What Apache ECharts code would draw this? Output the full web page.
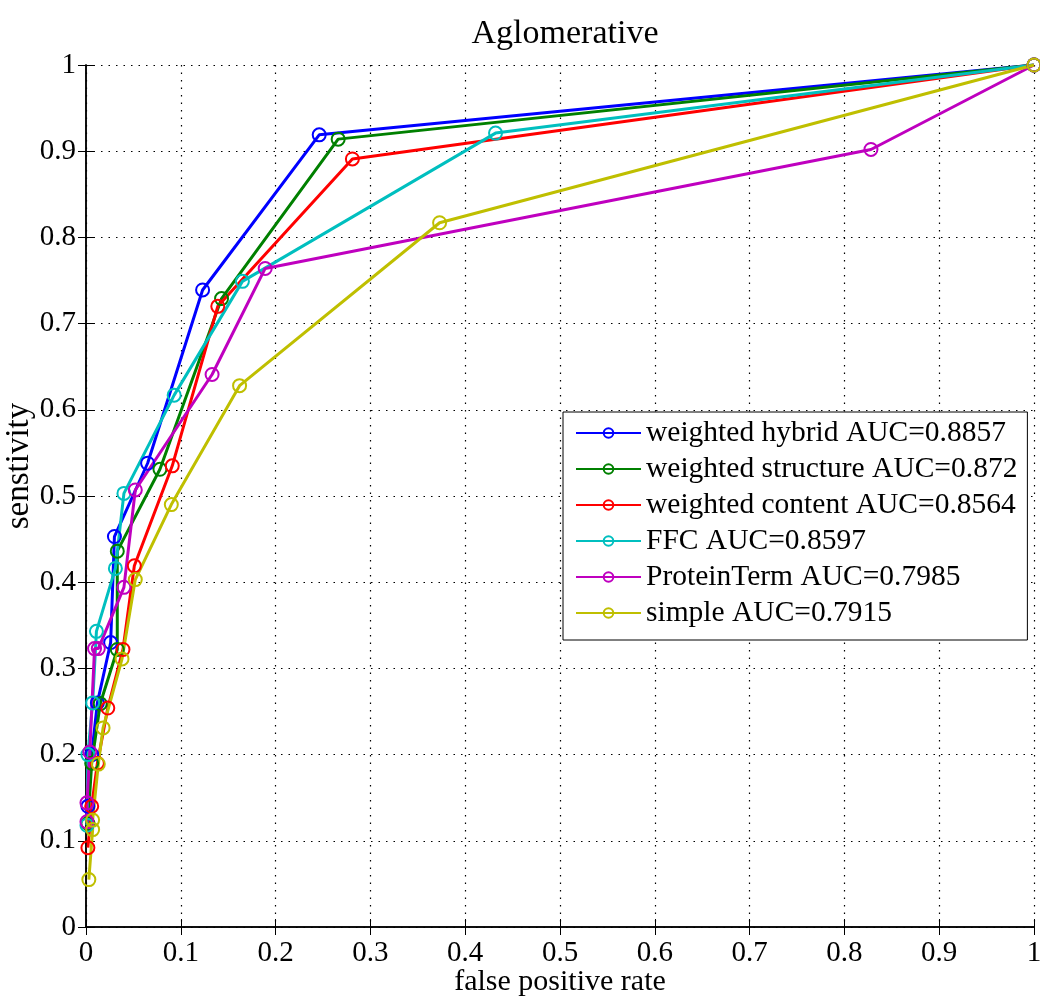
<!DOCTYPE html>
<html>
<head>
<meta charset="utf-8">
<script src="https://cdn.jsdelivr.net/npm/echarts@6/dist/echarts.min.js"></script>
<style>
  html, body { margin: 0; padding: 0; background: #fff; }
  #chart { width: 1040px; height: 996px; }
</style>
</head>
<body>
<div id="chart"></div>
<script>
// ROC points [false positive rate, sensitivity]
const hybrid = [[0.002, 0.14], [0.006, 0.2], [0.012, 0.26], [0.026, 0.33], [0.030, 0.453], [0.065, 0.538], [0.123, 0.739], [0.246, 0.919], [1, 1]];
const structure = [[0.002, 0.12], [0.006, 0.19], [0.015, 0.259], [0.033, 0.322], [0.033, 0.436], [0.078, 0.531], [0.143, 0.729], [0.266, 0.914], [1, 1]];
const content = [[0.002, 0.092], [0.006, 0.14], [0.012, 0.19], [0.023, 0.254], [0.039, 0.322], [0.051, 0.419], [0.091, 0.535], [0.139, 0.72], [0.281, 0.891], [1, 1]];
const ffc = [[0.001, 0.118], [0.002, 0.2], [0.007, 0.26], [0.011, 0.343], [0.031, 0.416], [0.040, 0.503], [0.093, 0.617], [0.165, 0.749], [0.432, 0.921], [1, 1]];
const proteinTerm = [[0.001, 0.122], [0.001, 0.144], [0.004, 0.203], [0.009, 0.323], [0.013, 0.323], [0.040, 0.394], [0.052, 0.507], [0.133, 0.641], [0.189, 0.764], [0.828, 0.902], [1, 1]];
const simple = [[0.003, 0.055], [0.007, 0.113], [0.007, 0.124], [0.013, 0.189], [0.018, 0.231], [0.038, 0.311], [0.052, 0.403], [0.090, 0.490], [0.162, 0.628], [0.373, 0.817], [1, 1]];

const names = ['weighted hybrid AUC=0.8857', 'weighted structure AUC=0.872', 'weighted content AUC=0.8564', 'FFC AUC=0.8597', 'ProteinTerm AUC=0.7985', 'simple AUC=0.7915'];
const colors = ['#0000ff', '#008000', '#ff0000', '#00bfbf', '#bf00bf', '#bfbf00'];
const allData = [hybrid, structure, content, ffc, proteinTerm, simple];

const font = 'Liberation Serif';
const chart = echarts.init(document.getElementById('chart'));

const seriesList = allData.map(function (d, i) {
    return {
        name: names[i],
        type: 'line',
        data: d,
        xAxisIndex: 0,
        yAxisIndex: 0,
        symbol: 'circle',
        symbolSize: 13,
        color: colors[i],
        lineStyle: { width: 3, color: colors[i] },
        itemStyle: { borderWidth: 2, color: 'transparent', borderColor: colors[i] }
    };
});

const boxAxis = {
    min: 0, max: 1, interval: 0.1,
    axisLine: { show: true, lineStyle: { color: '#000', width: 1.5 } },
    axisTick: { show: true, inside: true, length: 8, lineStyle: { color: '#000' } },
    axisLabel: { show: false },
    splitLine: { show: false }
};

chart.setOption({
    animation: false,
    backgroundColor: '#fff',
    title: {
        text: 'Aglomerative',
        left: 560,
        textAlign: 'center',
        top: 12,
        textStyle: { fontFamily: font, fontSize: 34, fontWeight: 'normal', color: '#000' }
    },
    legend: {
        orient: 'vertical',
        left: 563,
        top: 412,
        padding: [6, 10, 12, 12],
        itemGap: 6,
        itemWidth: 65,
        itemHeight: 12,
        backgroundColor: '#fff',
        borderColor: '#000',
        borderWidth: 1,
        textStyle: { fontFamily: font, fontSize: 29.5, color: '#000', lineHeight: 30 },
        data: names
    },
    grid: { left: 86, right: 6, top: 65, bottom: 69, containLabel: false, outerBoundsMode: 'none' },
    xAxis: [{
        type: 'value',
        min: 0, max: 1, interval: 0.1,
        name: 'false positive rate',
        nameLocation: 'middle',
        nameMoveOverlap: false,
        nameGap: 40,
        nameTextStyle: { fontFamily: font, fontSize: 30, color: '#000' },
        axisLine: { show: true, lineStyle: { color: '#000', width: 1.5 } },
        axisTick: { show: true, inside: true, length: 8, lineStyle: { color: '#000' } },
        axisLabel: { fontFamily: font, fontSize: 29, color: '#000', margin: 12 },
        splitLine: { show: true, lineStyle: { color: '#000', type: [1.5, 6], width: 1.2 } }
    }, Object.assign({ type: 'value', position: 'top' }, boxAxis)],
    yAxis: [{
        type: 'value',
        min: 0, max: 1, interval: 0.1,
        name: 'senstivity',
        nameLocation: 'middle',
        nameMoveOverlap: false,
        nameGap: 50,
        nameTextStyle: { fontFamily: font, fontSize: 33, color: '#000', padding: [0, 0, 0, 60] },
        axisLine: { show: true, lineStyle: { color: '#000', width: 1.5 } },
        axisTick: { show: true, inside: true, length: 8, lineStyle: { color: '#000' } },
        axisLabel: { fontFamily: font, fontSize: 29, color: '#000', margin: 10 },
        splitLine: { show: true, lineStyle: { color: '#000', type: [1.5, 6], width: 1.2 } }
    }, Object.assign({ type: 'value', position: 'right' }, boxAxis)],
    series: seriesList
});
</script>
</body>
</html>
